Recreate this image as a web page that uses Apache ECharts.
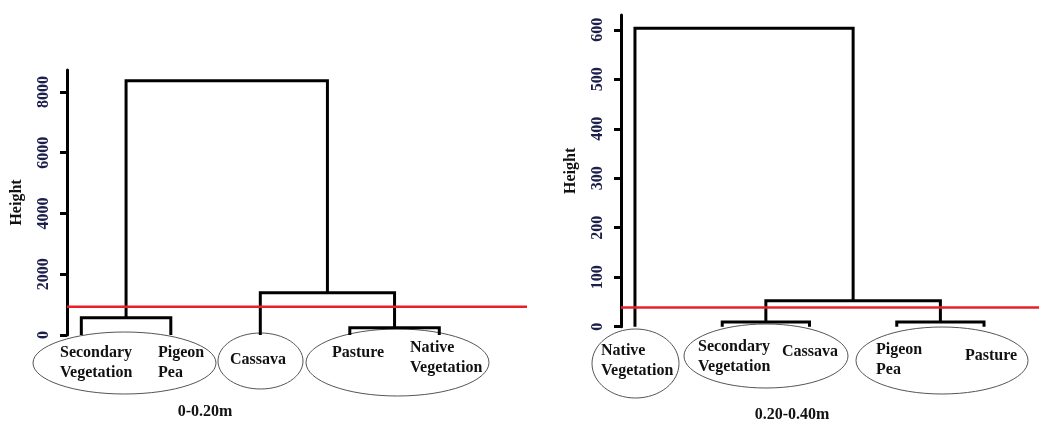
<!DOCTYPE html>
<html>
<head>
<meta charset="utf-8">
<script src="https://cdn.jsdelivr.net/npm/echarts@6/dist/echarts.min.js"></script>
<style>
html, body { margin: 0; padding: 0; background: #fff; }
#chart { width: 1039px; height: 421px; }
</style>
</head>
<body>
<div id="chart"></div>
<script>
// leaves in plotting order (position 1..5), merges like R's hclust merge matrix
var leftLeaves = ['Secondary\nVegetation', 'Pigeon\nPea', 'Cassava', 'Pasture', 'Native\nVegetation'];
var leftMerges = [[-1, -2, 570], [-4, -5, 240], [-3, 2, 1390], [1, 3, 8370]];
var leftCut = 930;
var leftTicks = [0, 2000, 4000, 6000, 8000];
var leftTitle = '0-0.20m';

var rightLeaves = ['Native\nVegetation', 'Secondary\nVegetation', 'Cassava', 'Pigeon\nPea', 'Pasture'];
var rightMerges = [[-2, -3, 9.5], [-4, -5, 9.5], [1, 2, 52.5], [-1, 3, 603]];
var rightCut = 39;
var rightTicks = [0, 100, 200, 300, 400, 500, 600];
var rightTitle = '0.20-0.40m';

var FONT = 'Liberation Serif';
var FS = 16;

function dendroSeries(merges, axisIdx) {
	var nodes = [];
	var out = [];
	function child(c) {
		if (c < 0) return { x: -c, h: 0 };
		return nodes[c - 1];
	}
	for (var i = 0; i < merges.length; i++) {
		var a = child(merges[i][0]);
		var b = child(merges[i][1]);
		var h = merges[i][2];
		nodes.push({ x: (a.x + b.x) / 2, h: h });
		out.push({
			type: 'line',
			xAxisIndex: axisIdx,
			yAxisIndex: axisIdx,
			symbol: 'none',
			silent: true,
			lineStyle: { color: '#000', width: 3, join: 'miter' },
			data: [[a.x, a.h], [a.x, h], [b.x, h], [b.x, b.h]]
		});
	}
	return out;
}

function cutSeries(cut, axisIdx, x0, x1) {
	return {
		type: 'line',
		xAxisIndex: axisIdx,
		yAxisIndex: axisIdx,
		symbol: 'none',
		silent: true,
		z: 5,
		lineStyle: { color: '#e8202a', width: 2.5 },
		data: [[x0, cut], [x1, cut]]
	};
}

function yAxisFor(idx, max, interval, ticks) {
	return {
		type: 'value',
		gridIndex: idx,
		min: 0,
		max: max,
		interval: interval,
		name: 'Height',
		nameLocation: 'middle',
		nameRotate: 90,
		nameGap: 42,
		nameTextStyle: { fontFamily: FONT, fontWeight: 'bold', fontSize: FS, color: '#111' },
		splitLine: { show: false },
		axisLine: { show: true, lineStyle: { color: '#000', width: 3 } },
		axisTick: { show: true, length: 7, customValues: ticks, lineStyle: { color: '#000', width: 3 } },
		axisLabel: {
			customValues: ticks,
			rotate: 90,
			margin: 15,
			fontFamily: FONT,
			fontWeight: 'bold',
			fontSize: FS,
			color: '#1b1f4a',
			formatter: function (v) { return String(v); }
		}
	};
}

// label and ellipse layout (pixels)
var leftLabelPos = [[60, 362.5], [158, 362.5], [230, 360], [332, 353], [410, 358]];
var rightLabelPos = [[601, 360.5], [698, 356.5], [782, 352], [876, 359.5], [965, 356]];
var ellipses = [
	[124.5, 363, 91.5, 31], [260.5, 361, 42.5, 28], [397.5, 362.5, 91.5, 33.5],
	[635.5, 363.5, 43.5, 34.5], [766, 356, 82, 32], [942, 360.5, 86, 33.5]
];

var graphics = [];
ellipses.forEach(function (e) {
	graphics.push({
		type: 'ellipse',
		shape: { cx: e[0], cy: e[1], rx: e[2], ry: e[3] },
		style: { fill: 'none', stroke: '#555', lineWidth: 1 },
		silent: true
	});
});
function addLabels(names, pos) {
	names.forEach(function (n, i) {
		graphics.push({
			type: 'text',
			x: pos[i][0],
			y: pos[i][1],
			silent: true,
			style: {
				text: n,
				fontFamily: FONT,
				fontWeight: 'bold',
				fontSize: FS,
				lineHeight: 20,
				fill: '#111',
				align: 'left',
				verticalAlign: 'middle'
			}
		});
	});
}
addLabels(leftLeaves, leftLabelPos);
addLabels(rightLeaves, rightLabelPos);
[[leftTitle, 205, 412], [rightTitle, 792, 415]].forEach(function (t) {
	graphics.push({
		type: 'text',
		x: t[1],
		y: t[2],
		silent: true,
		style: {
			text: t[0],
			fontFamily: FONT,
			fontWeight: 'bold',
			fontSize: FS,
			fill: '#111',
			align: 'center',
			verticalAlign: 'middle'
		}
	});
});

var myChart = echarts.init(document.getElementById('chart'));
var option = {
	animation: false,
	backgroundColor: '#fff',
	grid: [
		{ left: 67, top: 70, width: 460, height: 265 },
		{ left: 621, top: 15, width: 418, height: 311.7 }
	],
	xAxis: [
		{ type: 'value', gridIndex: 0, min: 0.84, max: 5.98, show: false },
		{ type: 'value', gridIndex: 1, min: 0.84, max: 5.63, show: false }
	],
	yAxis: [
		yAxisFor(0, 8720, 2000, leftTicks),
		yAxisFor(1, 630, 100, rightTicks)
	],
	series: []
		.concat(dendroSeries(leftMerges, 0))
		.concat(dendroSeries(rightMerges, 1))
		.concat([cutSeries(leftCut, 0, 0.84, 5.98), cutSeries(rightCut, 1, 0.84, 5.63)]),
	graphic: graphics
};
myChart.setOption(option, true);
</script>
</body>
</html>
